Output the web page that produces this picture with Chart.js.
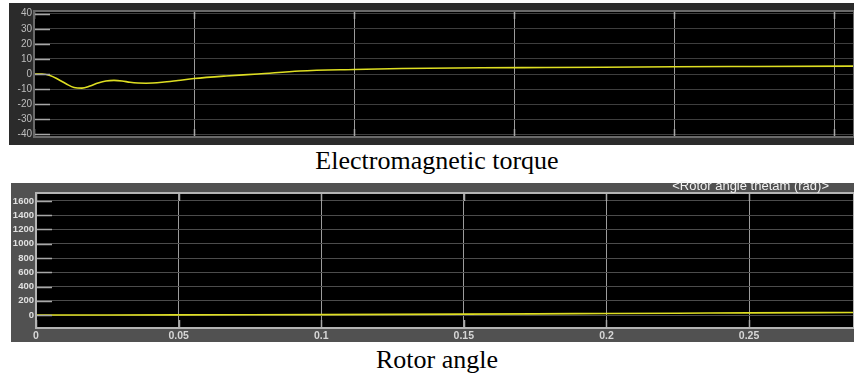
<!DOCTYPE html>
<html>
<head>
<meta charset="utf-8">
<script src="https://cdn.jsdelivr.net/npm/chart.js@4/dist/chart.umd.min.js"></script>
<style>
  body { margin: 0; background: #fff; width: 854px; height: 381px; position: relative; overflow: hidden; }
  .panel { position: absolute; }
  #p1 { left: 9px; top: 3px; width: 845px; height: 142px; background: #2b2b2b; }
  #p2 { left: 11px; top: 183px; width: 843px; height: 159px; background: #515151; }
  .cap { position: absolute; left: 237px; width: 400px; text-align: center;
         font-family: "Liberation Serif", "Times New Roman", serif; font-size: 26px; color: #000; }
  #scope2 { position: absolute; right: 25px; top: 178px; font-family: "Liberation Sans", Arial, sans-serif;
            font-size: 13px; color: #f2f2f2; }
</style>
</head>
<body>
<div class="panel" id="p1"><canvas id="torque"></canvas></div>
<div class="cap" style="top:146px">Electromagnetic torque</div>
<div class="panel" id="p2"><canvas id="angle"></canvas></div>
<div id="scope2">&lt;Rotor angle thetam (rad)&gt;</div>
<div class="cap" style="top:345px">Rotor angle</div>

<script>
// torque (top scope)
var tempoTorque = [0, 0.005, 0.01, 0.015, 0.02, 0.025, 0.03, 0.035, 0.04, 0.045, 0.05, 0.055, 0.06, 0.065, 0.07,
    0.08, 0.09, 0.1, 0.12, 0.14, 0.166, 0.2, 0.23, 0.28, 0.32, 0.4, 0.45, 0.5125];
var torque = [0, 0, -1, -3.5, -6.5, -9, -9.4, -8, -6, -4.6, -4.2, -4.6, -5.5, -6, -6.1,
    -5.5, -4.3, -3, -1.3, 0, 2, 3, 3.6, 4.1, 4.3, 4.8, 5, 5.2];
var ticksTorque = [-40, -30, -20, -10, 0, 10, 20, 30, 40];

// rotor angle (bottom scope)
var tempoAngulo = [0, 0.025, 0.05, 0.075, 0.1, 0.125, 0.15, 0.175, 0.2, 0.225, 0.25, 0.2868];
var angulo = [0, 0.3, 1.5, 3.5, 6, 9, 12.5, 16.5, 21, 25.5, 30, 36];
var ticksTempo = ['0', '0.05', '0.1', '0.15', '0.2', '0.25'];
var ticksAngulo = [0, 200, 400, 600, 800, 1000, 1200, 1400, 1600];

function pontos(xs, ys) {
    var out = [];
    for (var i = 0; i < xs.length; i++) out.push({ x: xs[i], y: ys[i] });
    return out;
}

// plot frame + short scope tick marks
var moldura = {
    id: 'moldura',
    afterDraw: function (chart, args, opts) {
        var ctx = chart.ctx, a = chart.chartArea;
        var sy = chart.scales.y, sx = chart.scales.x;
        ctx.save();
        ctx.strokeStyle = opts.marca;
        ctx.lineWidth = 1.5;
        sy.ticks.forEach(function (t) {
            var py = Math.round(sy.getPixelForValue(t.value)) + 0.5;
            ctx.beginPath(); ctx.moveTo(a.left, py); ctx.lineTo(a.left + 16, py); ctx.stroke();
        });
        sx.ticks.forEach(function (t) {
            var px = Math.round(sx.getPixelForValue(t.value)) + 0.5;
            ctx.beginPath(); ctx.moveTo(px, a.bottom); ctx.lineTo(px, a.bottom - 8); ctx.stroke();
            ctx.beginPath(); ctx.moveTo(px, a.top); ctx.lineTo(px, a.top + 8); ctx.stroke();
        });
        ctx.strokeStyle = opts.borda;
        ctx.lineWidth = 2;
        ctx.strokeRect(a.left, a.top, a.right - a.left, a.bottom - a.top);
        ctx.restore();
    }
};

var fundo = {
    id: 'fundo',
    beforeDraw: function (chart) {
        var a = chart.chartArea, ctx = chart.ctx;
        ctx.save();
        ctx.fillStyle = '#000';
        ctx.fillRect(a.left, a.top, a.right - a.left, a.bottom - a.top);
        ctx.restore();
    }
};

function criarScope(id, xs, ys, cfg) {
    var ctx = document.getElementById(id).getContext('2d');
    return new Chart(ctx, {
        type: 'line',
        data: {
            datasets: [{
                data: pontos(xs, ys),
                borderColor: '#dede22',
                borderWidth: 1.6,
                pointRadius: 0,
                cubicInterpolationMode: 'monotone',
                fill: false
            }]
        },
        options: {
            responsive: true,
            maintainAspectRatio: false,
            animation: false,
            layout: { padding: cfg.padding },
            plugins: {
                legend: { display: false },
                tooltip: { enabled: false },
                moldura: { borda: cfg.borda, marca: '#a8a8a8' }
            },
            scales: {
                x: {
                    type: 'linear',
                    min: 0,
                    max: cfg.xMax,
                    afterFit: function (s) { s.height = cfg.xAltura; },
                    ticks: {
                        display: cfg.xLabels != null,
                        stepSize: cfg.xStep,
                        includeBounds: false,
                        color: '#d6d6d6',
                        padding: 2,
                        maxRotation: 0,
                        font: { family: 'Liberation Sans', size: 10.5, weight: 'bold' },
                        callback: function (v, i) { return cfg.xLabels ? cfg.xLabels[i] : ''; }
                    },
                    grid: { color: '#9c9c9c', lineWidth: 1, drawTicks: false },
                    border: { display: false }
                },
                y: {
                    min: cfg.yMin,
                    max: cfg.yMax,
                    afterFit: function (s) { s.width = 25; },
                    afterBuildTicks: function (s) {
                        s.ticks = cfg.yTicks.map(function (v) { return { value: v }; });
                    },
                    ticks: {
                        color: cfg.yCor,
                        padding: 2,
                        font: { family: 'Liberation Sans', size: cfg.yFonte, weight: cfg.yPeso },
                        callback: function (v) { return String(v); }
                    },
                    grid: { color: cfg.gridH, lineWidth: 1, drawTicks: false },
                    border: { display: false }
                }
            }
        },
        plugins: [fundo, moldura]
    });
}

criarScope('torque', tempoTorque, torque, {
    padding: { top: 4, bottom: 0, right: 0, left: 0 },
    xMax: 0.5125, xStep: 0.1, xAltura: 2, xLabels: null,
    yMin: -41.8, yMax: 41.8, yTicks: ticksTorque, yCor: '#bdbdbd', yFonte: 10, yPeso: 'normal',
    gridH: '#3e3e3e', borda: '#6a6a6a'
});

criarScope('angle', tempoAngulo, angulo, {
    padding: { top: 10, bottom: 0, right: 0, left: 0 },
    xMax: 0.2868, xStep: 0.05, xAltura: 14, xLabels: ticksTempo,
    yMin: -182, yMax: 1712, yTicks: ticksAngulo, yCor: '#e0e0e0', yFonte: 9.5, yPeso: 'bold',
    gridH: '#4c4c4c', borda: '#b4b4b4'
});
</script>
</body>
</html>
